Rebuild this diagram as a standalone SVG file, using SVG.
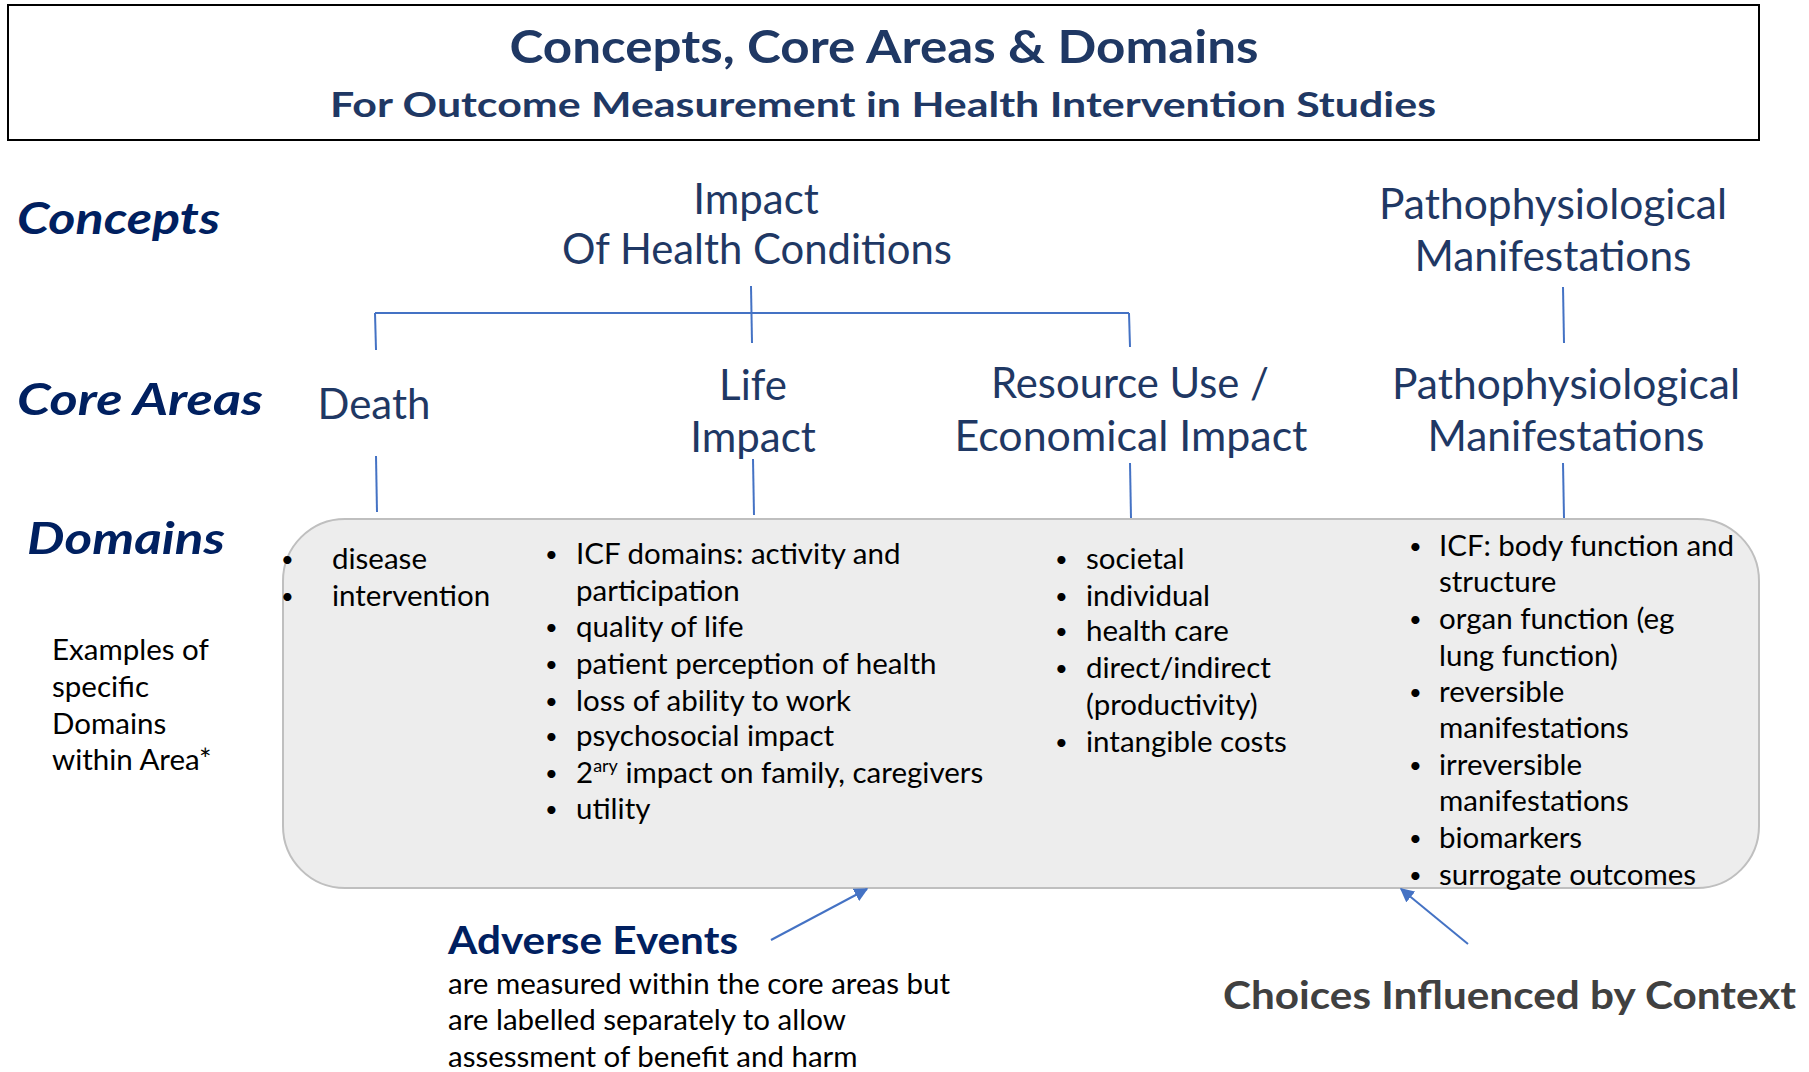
<svg xmlns="http://www.w3.org/2000/svg" width="1809" height="1072" viewBox="0 0 1809 1072">
<style>
.t{font-family:Lato,"Open Sans","Liberation Sans",sans-serif;}
.title{font-weight:bold;fill:#1F3864;}
.side{font-weight:bold;font-style:italic;fill:#002060;font-size:44px;}
.head{fill:#1F3864;font-size:42px;}
.body{fill:#000;font-size:29.5px;}
.b{font-size:22px;}
.conn{stroke:#4472C4;stroke-width:2;fill:none;}
</style>
<defs>
<marker id="ah" viewBox="0 0 10 10" refX="9" refY="5" markerWidth="7" markerHeight="7" orient="auto-start-reverse">
<path d="M0,0 L10,5 L0,10 z" fill="#4472C4"/>
</marker>
</defs>
<rect width="1809" height="1072" fill="#fff"/>
<g id="title">
<rect x="8" y="5" width="1751" height="135" fill="#fff" stroke="#000" stroke-width="2"/>
<text class="t title" x="884" y="63" font-size="46" text-anchor="middle" textLength="749" lengthAdjust="spacingAndGlyphs">Concepts, Core Areas &amp; Domains</text>
<text class="t title" x="883" y="117" font-size="35" text-anchor="middle" textLength="1106" lengthAdjust="spacingAndGlyphs">For Outcome Measurement in Health Intervention Studies</text>
</g>
<g id="row-labels">
<text class="t side" x="17" y="234" textLength="203" lengthAdjust="spacingAndGlyphs">Concepts</text>
<text class="t side" x="17" y="415" textLength="246" lengthAdjust="spacingAndGlyphs">Core Areas</text>
<text class="t side" x="27" y="554" textLength="198" lengthAdjust="spacingAndGlyphs">Domains</text>
</g>
<g id="domain-box">
<rect x="283" y="519" width="1476" height="369" rx="62" ry="62" fill="#EDEDED" stroke="#BFBFBF" stroke-width="2"/>
</g>
<g id="connectors">
<line class="conn" x1="751" y1="286" x2="752" y2="343"/>
<line class="conn" x1="375" y1="313" x2="1129" y2="313"/>
<line class="conn" x1="375" y1="313" x2="376" y2="350"/>
<line class="conn" x1="1129" y1="313" x2="1130" y2="347"/>
<line class="conn" x1="1563" y1="287" x2="1564" y2="343"/>
<line class="conn" x1="376" y1="456" x2="377" y2="512"/>
<line class="conn" x1="753" y1="459" x2="754" y2="515"/>
<line class="conn" x1="1130" y1="463" x2="1131" y2="518"/>
<line class="conn" x1="1563" y1="463" x2="1564" y2="518"/>
<line class="conn" x1="771" y1="940" x2="867" y2="889" stroke-width="1.5" marker-end="url(#ah)"/>
<line class="conn" x1="1468" y1="944" x2="1401" y2="889" stroke-width="1.5" marker-end="url(#ah)"/>
</g>
<g id="concept-impact">
<text class="t head" x="756" y="214" text-anchor="middle">Impact</text>
<text class="t head" x="757" y="264" text-anchor="middle" textLength="390" lengthAdjust="spacingAndGlyphs">Of Health Conditions</text>
</g>
<g id="concept-patho">
<text class="t head" x="1553" y="219" text-anchor="middle" textLength="348" lengthAdjust="spacingAndGlyphs">Pathophysiological</text>
<text class="t head" x="1553" y="271" text-anchor="middle" textLength="277" lengthAdjust="spacingAndGlyphs">Manifestations</text>
</g>
<g id="area-death">
<text class="t head" x="374" y="419" text-anchor="middle">Death</text>
</g>
<g id="area-life">
<text class="t head" x="753" y="400" text-anchor="middle">Life</text>
<text class="t head" x="753" y="452" text-anchor="middle">Impact</text>
</g>
<g id="area-resource">
<text class="t head" x="1130" y="398" text-anchor="middle" textLength="278" lengthAdjust="spacingAndGlyphs">Resource Use /</text>
<text class="t head" x="1131" y="451" text-anchor="middle" textLength="353" lengthAdjust="spacingAndGlyphs">Economical Impact</text>
</g>
<g id="area-patho">
<text class="t head" x="1566" y="399" text-anchor="middle" textLength="348" lengthAdjust="spacingAndGlyphs">Pathophysiological</text>
<text class="t head" x="1566" y="451" text-anchor="middle" textLength="277" lengthAdjust="spacingAndGlyphs">Manifestations</text>
</g>
<g id="examples-note">
<text class="t body" x="52" y="660">Examples of</text>
<text class="t body" x="52" y="697">specific</text>
<text class="t body" x="52" y="734">Domains</text>
<text class="t body" x="52" y="770">within  Area*</text>
</g>
<g id="domains-death" class="t body">
<text class="b" x="281" y="567">•</text><text x="332" y="569">disease</text>
<text class="b" x="281" y="604">•</text><text x="332" y="606">intervention</text>
</g>
<g id="domains-life" class="t body">
<text class="b" x="545" y="562">•</text><text x="576" y="564">ICF domains: activity and</text>
<text x="576" y="601">participation</text>
<text class="b" x="545" y="635">•</text><text x="576" y="637">quality of life</text>
<text class="b" x="545" y="672">•</text><text x="576" y="674">patient perception of health</text>
<text class="b" x="545" y="709">•</text><text x="576" y="711">loss of ability to work</text>
<text class="b" x="545" y="744">•</text><text x="576" y="746">psychosocial impact</text>
<text class="b" x="545" y="781">•</text><text x="576" y="783">2<tspan font-size="18" dy="-11">ary</tspan><tspan dy="11"> impact on family, caregivers</tspan></text>
<text class="b" x="545" y="817">•</text><text x="576" y="819">utility</text>
</g>
<g id="domains-resource" class="t body">
<text class="b" x="1055" y="567">•</text><text x="1086" y="569">societal</text>
<text class="b" x="1055" y="604">•</text><text x="1086" y="606">individual</text>
<text class="b" x="1055" y="639">•</text><text x="1086" y="641">health care</text>
<text class="b" x="1055" y="676">•</text><text x="1086" y="678">direct/indirect</text>
<text x="1086" y="715">(productivity)</text>
<text class="b" x="1055" y="750">•</text><text x="1086" y="752">intangible costs</text>
</g>
<g id="domains-patho" class="t body">
<text class="b" x="1409" y="554">•</text><text x="1439" y="556">ICF: body function and</text>
<text x="1439" y="592">structure</text>
<text class="b" x="1409" y="627">•</text><text x="1439" y="629">organ function (eg</text>
<text x="1439" y="666">lung function)</text>
<text class="b" x="1409" y="700">•</text><text x="1439" y="702">reversible</text>
<text x="1439" y="738">manifestations</text>
<text class="b" x="1409" y="773">•</text><text x="1439" y="775">irreversible</text>
<text x="1439" y="811">manifestations</text>
<text class="b" x="1409" y="846">•</text><text x="1439" y="848">biomarkers</text>
<text class="b" x="1409" y="883">•</text><text x="1439" y="885">surrogate outcomes</text>
</g>
<g id="adverse-events">
<text class="t" x="448" y="954" font-size="39" font-weight="bold" fill="#002060" textLength="290" lengthAdjust="spacingAndGlyphs">Adverse Events</text>
<text class="t body" x="448" y="994">are measured within the core areas but</text>
<text class="t body" x="448" y="1030">are labelled separately to allow</text>
<text class="t body" x="448" y="1067">assessment  of benefit and harm</text>
</g>
<g id="context">
<text class="t" x="1223" y="1009" font-size="39" font-weight="bold" fill="#404040" textLength="573" lengthAdjust="spacingAndGlyphs">Choices Influenced by Context</text>
</g>
</svg>
